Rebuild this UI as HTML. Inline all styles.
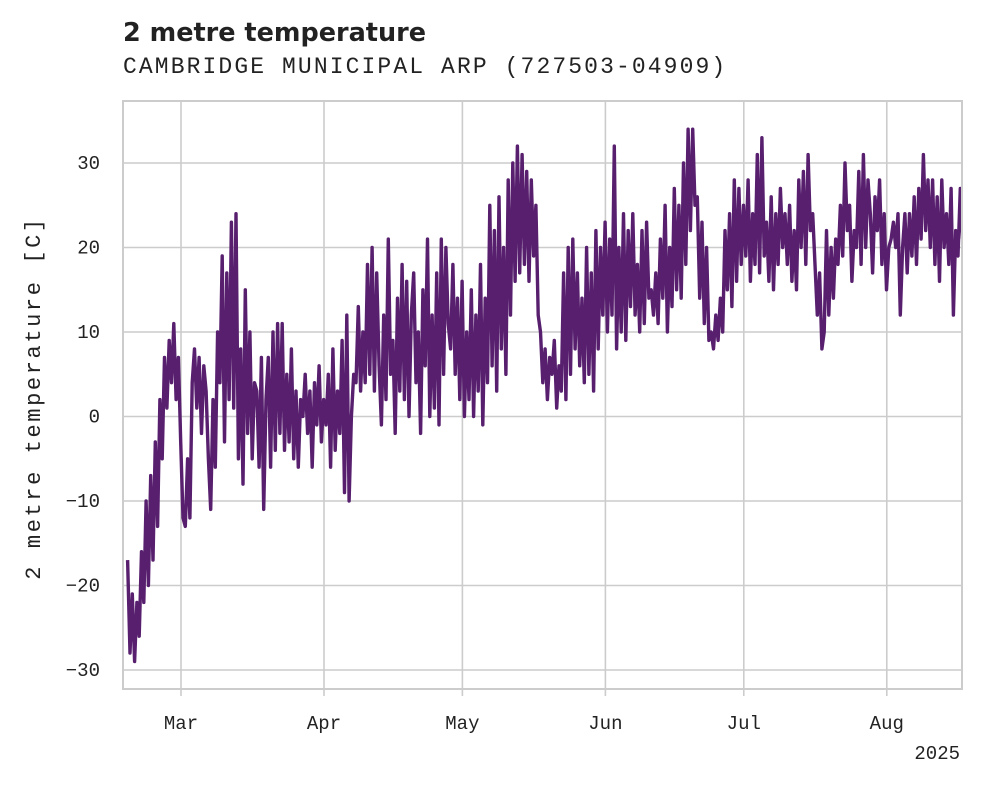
<!DOCTYPE html>
<html><head><meta charset="utf-8"><style>
html,body{margin:0;padding:0;background:#fff;}
svg{display:block;}
.tk{font-family:"Liberation Mono",monospace;font-size:19px;fill:#222;}
</style></head><body>
<svg id="chart" width="981" height="785" viewBox="0 0 981 785">
<text x="123" y="41" font-family="DejaVu Sans, sans-serif" font-weight="bold" font-size="25.5" fill="#222">2 metre temperature</text>
<text x="123" y="73" font-family="Liberation Mono, monospace" font-size="23" letter-spacing="2.1" fill="#222">CAMBRIDGE MUNICIPAL ARP (727503-04909)</text>
<g id="grid"></g>
<defs><clipPath id="pc"><rect x="123" y="101" width="839" height="588"/></clipPath></defs>
<g id="series" clip-path="url(#pc)"></g>
<rect x="123" y="101" width="839" height="588" fill="none" stroke="#ccc" stroke-width="2"/>
<g id="axes"></g>
<text x="0" y="0" transform="translate(40,398) rotate(-90)" text-anchor="middle" font-family="Liberation Mono, monospace" font-size="22" letter-spacing="2.6" fill="#222">2 metre temperature [C]</text>
<text x="960" y="759" text-anchor="end" class="tk">2025</text>
</svg>
<script>
const startDate = "2025-02-17";
const stepDays = 0.5;
const yTicks = [-30,-20,-10,0,10,20,30];
const xTickDates = ["2025-03-01","2025-04-01","2025-05-01","2025-06-01","2025-07-01","2025-08-01"];
const xTickLabels = ["Mar","Apr","May","Jun","Jul","Aug"];
const febVals = [-17,-28,-21,-29,-22,-26,-16,-22,-10,-20,-7,-17,-3,-13,2,-5,7,1,9,4,11,2,7,-3];
const marVals = [-12,-13,-5,-12,4,8,1,7,-2,6,3,-5,-11,2,-6,10,4,19,-3,17,2,23,1,24,-5,8,-8,15,-2,10,-5,4,3,-6,7,-11,2,7,-6,10,-4,11,-2,11,-4,5,-3,8,-5,3,-6,2,0,5,-2,3,-6,4,-1,6,-3,2];
const aprVals = [-1,5,-6,8,-4,3,-2,9,-9,12,-10,0,5,4,13,3,10,4,18,5,20,3,17,6,-1,12,2,21,5,9,-2,14,3,18,2,16,0,12,17,4,10,-2,15,6,21,0,12,1,17,-1,21,5,20,11,8,18,5,14,2,16,0];
const mayVals = [10,2,15,0,12,3,18,-1,14,4,25,6,22,3,26,8,20,5,28,12,30,16,32,17,31,18,29,16,28,19,25,12,10,4,8,2,7,5,9,1,6,3,17,2,20,5,21,8,17,6,14,4,20,5,17,3,22,8,20,12,23,10];
const junVals = [21,12,32,8,20,10,24,9,22,13,24,12,18,10,22,11,23,14,15,12,17,11,21,14,25,10,20,13,27,15,25,14,30,18,34,22,34,25,26,14,23,11,20,9,10,8,12,9,14,10,22,15,24,13,28,16,27,18,25,19];
const julVals = [28,16,24,18,31,17,33,19,23,16,26,15,24,18,27,20,24,18,25,16,22,15,28,20,29,18,31,22,24,18,12,17,8,10,22,12,20,14,21,18,25,19,30,22,25,16,22,20,29,18,31,20,28,24,17,26,22,28,18,24,15,20];
const augVals = [21,23,20,24,12,20,24,17,24,19,26,18,27,21,31,22,28,20,28,18,26,16,28,20,24,18,27,12,22,19,27,21];
const temps = febVals.concat(marVals,aprVals,mayVals,junVals,julVals,augVals);

const NS="http://www.w3.org/2000/svg";
const DAY=86400000;
const mar1=Date.parse("2025-03-01");
function xScale(t){return 181+(t-mar1)/DAY*4.613;}
function yScale(v){return 416.5-v*8.45;}
const grid=document.getElementById('grid'), axes=document.getElementById('axes'), series=document.getElementById('series');
yTicks.forEach(v=>{
  const y=yScale(v);
  const l=document.createElementNS(NS,'line');
  l.setAttribute('x1',123);l.setAttribute('x2',962);l.setAttribute('y1',y);l.setAttribute('y2',y);
  l.setAttribute('stroke','#ccc');l.setAttribute('stroke-width','1.6');
  
  
  grid.appendChild(l);
  const t=document.createElementNS(NS,'text');
  t.setAttribute('x',100);t.setAttribute('y',y+6);t.setAttribute('text-anchor','end');t.setAttribute('class','tk');
  t.textContent=(v<0?'\u2212':'')+Math.abs(v);
  
  
  axes.appendChild(t);
});
xTickDates.forEach((d,i)=>{
  const x=xScale(Date.parse(d));
  const l=document.createElementNS(NS,'line');
  l.setAttribute('x1',x);l.setAttribute('x2',x);l.setAttribute('y1',101);l.setAttribute('y2',689);
  l.setAttribute('stroke','#ccc');l.setAttribute('stroke-width','1.6');
  
  
  grid.appendChild(l);
  const tk=document.createElementNS(NS,'line');
  tk.setAttribute('x1',x);tk.setAttribute('x2',x);tk.setAttribute('y1',689);tk.setAttribute('y2',696);
  tk.setAttribute('stroke','#ccc');tk.setAttribute('stroke-width','1.6');
  
  
  axes.appendChild(tk);
  const t=document.createElementNS(NS,'text');
  t.setAttribute('x',x);t.setAttribute('y',729);t.setAttribute('text-anchor','middle');t.setAttribute('class','tk');
  t.textContent=xTickLabels[i];
  
  
  axes.appendChild(t);
});
const t0=Date.parse(startDate);
let d='';
temps.forEach((v,i)=>{
  const x=xScale(t0+i*stepDays*DAY)+2;
  d+=(i?'L':'M')+x.toFixed(1)+','+yScale(v).toFixed(1);
});
const p=document.createElementNS(NS,'path');
p.setAttribute('d',d);p.setAttribute('fill','none');p.setAttribute('stroke','#571f6e');
p.setAttribute('stroke-width','3.4');p.setAttribute('stroke-linejoin','round');


series.appendChild(p);
</script>
</body></html>
